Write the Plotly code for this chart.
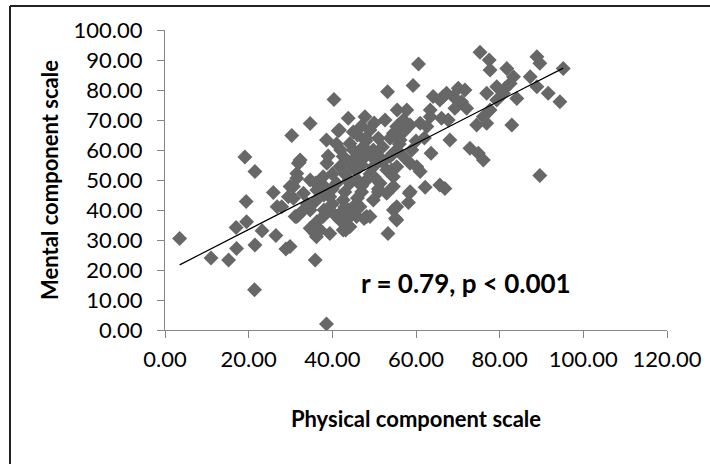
import plotly.graph_objects as go

# Physical component scale (x) and Mental component scale (y)
pcs = [3.5, 11, 15.2, 17.1, 17, 19.5, 19.4, 19.1, 21.5, 21.5, 21.4, 23.2, 25.9, 26.5, 26.8, 28.9,
       30.3, 32.1, 34.7, 35.9, 35.1, 36.2, 38.6, 38.6, 40.4, 41.4, 43.2, 43.8, 47.8, 47.6, 53.2,
       53.3, 52.6, 55.1, 55.4, 55.5, 57.8, 58.4, 58.2, 59.3, 60.6, 60.2, 61, 62.2, 63.6, 65.7,
       66.9, 68.1, 72.9, 74.9, 76.1, 75.3, 77.5, 77.7, 81.7, 83.3, 82.5, 81.3, 88.9, 89.6, 95.2,
       87.3, 88.9, 91.6, 94.4, 84.1, 82.9, 76.9, 79.3, 77.7, 76.1, 74.5, 76.9, 79.3, 80.9, 70.1,
       71.7, 70.9, 68.9, 72.1, 69.3, 64.1, 65.7, 66.5, 67.3, 63.4, 66.1, 67.7, 57, 58.6, 61, 62.6,
       63.4, 54.6, 56.2, 54.6, 57, 55.4, 58.6, 54.2, 89.6, 58.6, 54.6, 48.2, 46.6, 42.6, 43.4, 41,
       39.4, 35.9, 37.1, 34.7, 36.3, 31.9, 33.1, 29.9, 54.6, 55.4,
       41.7, 49, 51, 53.8, 55.4, 44.2, 47.4, 49.8, 45.8, 42.6, 53.8, 55.4, 32.3, 38.7, 41.8, 45.8,
       49.8, 53, 31.5, 34.7, 37.8, 41, 44.2, 48.2, 51.4, 54.6, 29.9, 33.1, 36.3, 39.4, 42.6, 45.8,
       49.8, 53, 31.5, 34.7, 37.8, 41.8, 45.8, 35.5, 39.4, 44.2, 49, 31.9, 30.7, 29.5, 27.9, 31.1,
       31.5, 30.7,
       46, 47, 50, 45, 48, 51, 43, 47, 40, 36, 38, 43, 47, 51, 50, 52, 44, 40, 36, 34, 38, 42, 46,
       48, 52, 56, 57, 59, 60, 62, 46,
       44, 46, 48, 50, 42, 44, 40, 38, 43, 45, 49, 51, 47, 45, 41, 39]
mcs = [30.5, 24, 23.3, 27.2, 34.2, 36.1, 42.8, 57.7, 52.8, 28.3, 13.4, 33.1, 45.8, 31.5, 41.1, 27,
       64.8, 55.9, 68.8, 23.3, 33.5, 31.1, 63.3, 2, 76.8, 66.4, 33.3, 70.6, 71.1, 37.2, 79.4,
       32.2, 70, 37.2, 41.1, 73.3, 73.3, 45.6, 42.5, 81.5, 88.7, 54.4, 52.8, 47.6, 58.9, 48.3,
       47.2, 63.3, 60.6, 58.9, 56.7, 92.6, 90, 86.7, 87.2, 84.4, 82.2, 80.6, 91.1, 88.9, 87.2,
       84.4, 81.1, 78.9, 76.1, 77.2, 68.3, 78.9, 76.7, 73.3, 71.1, 68.3, 68.9, 81.1, 78.9, 80.6,
       80, 76.1, 77.8, 73.9, 73.9, 77.8, 76.7, 77.8, 78.9, 73.3, 70.6, 70, 70, 68.3, 68.9, 67.8,
       71.1, 65.6, 63.3, 58.9, 57.8, 54.4, 55.6, 53.3, 51.5, 46.1, 47.8, 37.8, 41.1, 33.3, 36.7, 37.8,
       40, 32.2, 33.3, 33.9, 36.1, 38.3, 40, 27.8, 40, 36.7,
       66.7, 66.7, 63.9, 63.9, 67.8, 62.2, 61.1, 60, 57.8, 57.8, 57.8, 60, 56.7, 55.6, 54.4, 53.3,
       54.4, 53.3, 52.2, 50, 51.1, 48.9, 48.9, 50, 48.9, 51.1, 47.8, 45.6, 46.7, 44.4, 43.3, 42.2,
       43.3, 45.6, 37.8, 40, 37.8, 36.7, 37.8, 33.3, 32.2, 34.4, 37.8, 55.6, 47.8, 44.4, 41.1, 37.8,
       50.6, 43.9,
       65, 68, 69, 60, 63, 58, 52, 55, 52, 49, 48, 46, 46, 46, 51, 56, 40, 42, 43, 42, 40, 39, 50,
       58, 61, 62, 66, 60, 63, 64, 44,
       56, 59, 64, 57, 60, 50, 47, 45, 41, 54, 52, 47, 48, 66, 62, 58]

# Linear trend line end points
trend_x = [3.5, 95.2]
trend_y = [21.7, 87.3]

x_ticks = [0, 20, 40, 60, 80, 100, 120]
y_ticks = [0, 10, 20, 30, 40, 50, 60, 70, 80, 90, 100]

FONT = "Lato, Carlito, Calibri, 'Open Sans', sans-serif"
AXIS_GREY = "#868686"

fig = go.Figure()
fig.add_trace(go.Scatter(
    x=pcs, y=mcs, mode="markers",
    marker=dict(symbol="diamond", size=11.5, color="#676767", line=dict(width=0)),
    showlegend=False, hoverinfo="x+y",
))
fig.add_trace(go.Scatter(
    x=trend_x, y=trend_y, mode="lines",
    line=dict(color="black", width=1.2),
    showlegend=False, hoverinfo="skip",
))

L, T, W, H = 165, 30, 502, 300
def px_to_paper_x(p):
    return (p - L) / W
def px_to_paper_y(p):
    return (T + H - p) / H

fig.add_annotation(
    x=px_to_paper_x(466), y=px_to_paper_y(283), xref="paper", yref="paper",
    text="<b>r = 0.79, p < 0.001</b>", showarrow=False,
    font=dict(family=FONT, size=26, color="black"),
    xanchor="center", yanchor="middle",
)

# outer chart frame (left and top edges visible)
fig.add_shape(type="line", xref="paper", yref="paper",
              x0=px_to_paper_x(10), x1=px_to_paper_x(10),
              y0=px_to_paper_y(6), y1=px_to_paper_y(480),
              line=dict(color="#222222", width=2))
fig.add_shape(type="line", xref="paper", yref="paper",
              x0=px_to_paper_x(10), x1=px_to_paper_x(720),
              y0=px_to_paper_y(6), y1=px_to_paper_y(6),
              line=dict(color="#222222", width=2))

fig.update_layout(
    width=710, height=464,
    margin=dict(l=L, r=710 - L - W, t=T, b=464 - T - H, autoexpand=False),
    paper_bgcolor="white", plot_bgcolor="white",
    font=dict(family=FONT, color="black"),
    showlegend=False,
)
fig.update_xaxes(
    range=[0, 120], tickvals=x_ticks, ticktext=[f"{v:.2f}" for v in x_ticks],
    showgrid=False, zeroline=False, showline=True, linecolor=AXIS_GREY, linewidth=1,
    ticks="outside", ticklen=7, tickcolor=AXIS_GREY, ticklabelstandoff=3,
    tickfont=dict(family=FONT, size=22, color="black"),
    title=dict(text="<b>Physical component scale</b>", font=dict(family=FONT, size=22, color="black"),
               standoff=40),
)
fig.update_yaxes(
    range=[0, 100], tickvals=y_ticks, ticktext=[f"{v:.2f}" for v in y_ticks],
    showgrid=False, zeroline=False, showline=True, linecolor=AXIS_GREY, linewidth=1,
    ticks="outside", ticklen=7, tickcolor=AXIS_GREY, ticklabelstandoff=10,
    tickfont=dict(family=FONT, size=22, color="black"),
    title=dict(text="<b>Mental component scale</b>", font=dict(family=FONT, size=22, color="black"),
               standoff=8),
)

fig.write_html("out.html", config={"displayModeBar": False},
               post_script="document.body.style.margin='0';")
